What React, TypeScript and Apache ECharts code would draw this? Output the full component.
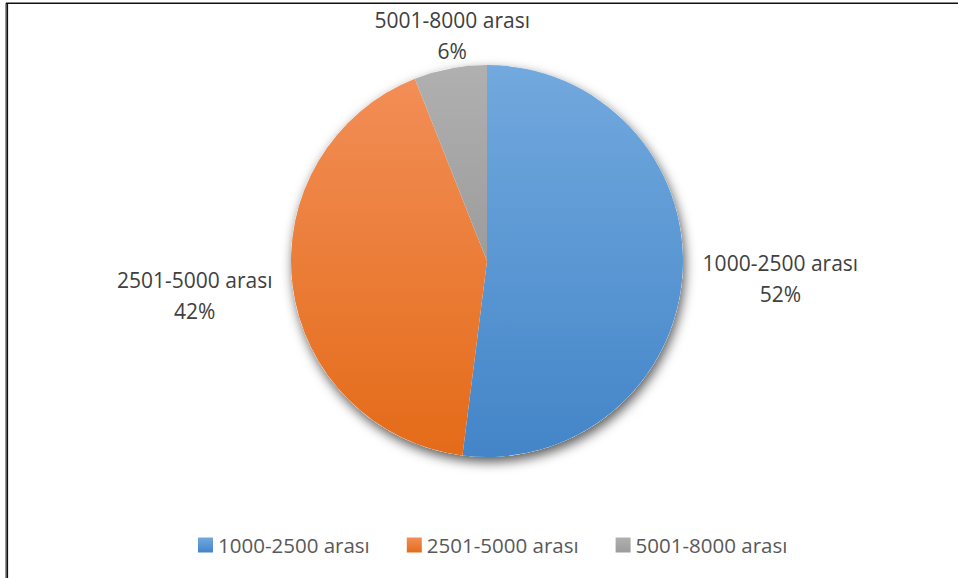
import React, { useEffect, useRef } from "react";
import * as echarts from "echarts";

const categories = ["1000-2500 arası", "2501-5000 arası", "5001-8000 arası"];
const values = [52, 42, 6];
const colorTops = ["#72a9de", "#f28e57", "#b0b0b0"];
const colorBottoms = ["#4385c8", "#e46b18", "#9c9c9c"];

const CX = 487;
const CY = 261;
const R = 196;

export default function App() {
  const ref = useRef<HTMLDivElement>(null);
  useEffect(() => {
    if (!ref.current) return;
    const chart = echarts.init(ref.current, undefined, { renderer: "svg" });
    const total = values.reduce((a, b) => a + b, 0);
    const data = categories.map((name, i) => ({
      name,
      value: values[i],
      itemStyle: {
        color: new echarts.graphic.LinearGradient(0, 0, 0, 1, [
          { offset: 0, color: colorTops[i] },
          { offset: 1, color: colorBottoms[i] },
        ]),
      },
    }));
    chart.setOption({
      animation: false,
      backgroundColor: "#ffffff",
      legend: {
        data: categories,
        left: 193,
        top: 526,
        itemWidth: 15,
        itemHeight: 15,
        itemGap: 37,
        icon: "rect",
        textStyle: {
          fontFamily: "Open Sans",
          fontSize: 20.5,
          color: "#595959",
          lineHeight: 28,
        },
      },
      graphic: [
        {
          type: "line",
          shape: { x1: 6, y1: 3.3, x2: 958, y2: 3.3 },
          style: { stroke: "#111", lineWidth: 1.4 },
          silent: true,
        },
        {
          type: "line",
          shape: { x1: 5.5, y1: 3, x2: 5.5, y2: 578 },
          style: { stroke: "#9a9a9a", lineWidth: 1 },
          silent: true,
        },
        {
          type: "line",
          shape: { x1: 7.2, y1: 3, x2: 7.2, y2: 578 },
          style: { stroke: "#111", lineWidth: 1.8 },
          silent: true,
        },
      ],
      series: [
        {
          type: "pie",
          z: 1,
          silent: true,
          center: [CX, CY],
          radius: R,
          label: { show: false },
          labelLine: { show: false },
          data: [
            {
              name: "__shadow",
              value: 1,
              itemStyle: {
                color: "#ffffff",
                shadowBlur: 12,
                shadowOffsetX: 2,
                shadowOffsetY: 5,
                shadowColor: "rgba(0,0,0,0.65)",
              },
            },
          ],
        },
        {
          type: "pie",
          z: 2,
          center: [CX, CY],
          radius: R,
          startAngle: 90,
          clockwise: true,
          avoidLabelOverlap: false,
          itemStyle: { borderWidth: 0 },
          label: {
            show: true,
            position: "outside",
            formatter: "{b}\n{d}%",
            fontFamily: "Open Sans",
            fontSize: 21,
            lineHeight: 31,
            color: "#404040",
          },
          labelLine: { show: false },
          labelLayout: (params: any) => {
            const i = params.dataIndex;
            let before = 0;
            for (let j = 0; j < i; j++) before += values[j];
            const mid = ((before + values[i] / 2) / total) * Math.PI * 2;
            const dx = Math.sin(mid);
            const dy = -Math.cos(mid);
            const px = CX + R * dx;
            const py = CY + R * dy;
            const w = params.labelRect.width;
            const h = params.labelRect.height;
            let ox: number;
            let oy: number;
            if (Math.abs(dx) >= Math.abs(dy)) {
              ox = Math.sign(dx) * (w / 2 + 20);
              oy = dy * 80;
            } else {
              ox = 2;
              oy = Math.sign(dy) * (h / 2 + 2);
            }
            return { x: px + ox, y: py + oy, align: "center", verticalAlign: "middle" };
          },
          data,
        },
      ],
    });
    return () => chart.dispose();
  }, []);
  return (
    <div
      ref={ref}
      style={{ position: "fixed", left: 0, top: 0, width: 958, height: 578 }}
    />
  );
}
